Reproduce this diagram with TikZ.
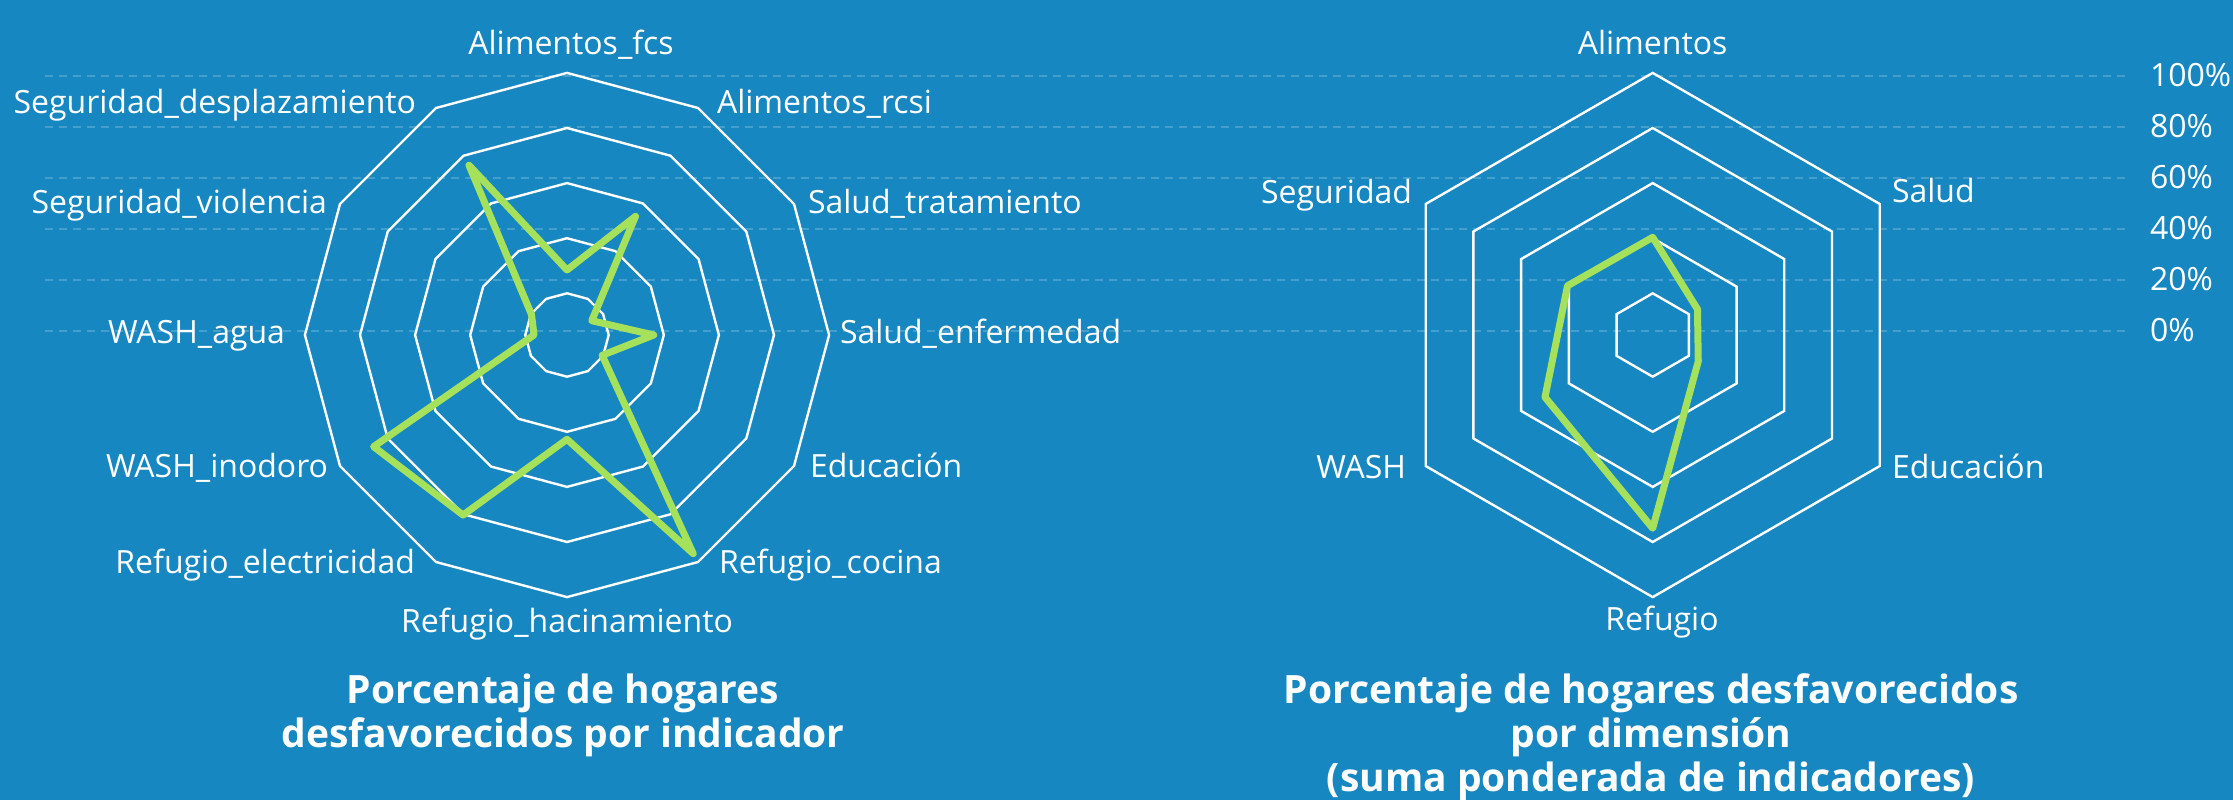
\documentclass[tikz,border=0pt]{standalone}
\usepackage{fontspec}
\setmainfont{Open Sans}
\definecolor{bgblue}{HTML}{1787C1}
\definecolor{datagreen}{HTML}{A6E15B}
\tikzset{
  ring/.style={draw=white, line width=2.4pt, line join=miter},
  series/.style={draw=datagreen, line width=7pt, line join=round, line cap=round},
  gridline/.style={draw=white, draw opacity=0.2, line width=2pt, dash pattern=on 8pt off 6pt},
  lbl/.style={text=white, inner sep=0pt, outer sep=0pt, font=\fontsize{32}{38}\selectfont},
  ttl/.style={text=white, inner sep=0pt, outer sep=0pt, align=center, font=\bfseries\fontsize{39}{44}\selectfont},
}
\begin{document}
\begin{tikzpicture}[x=1pt, y=-1pt]
\useasboundingbox (0,0) rectangle (2233,800);
\fill[bgblue] (0,0) rectangle (2233,800);

% horizontal dashed grid lines and their labels
\foreach \k/\t in {0/100\%, 1/80\%, 2/60\%, 3/40\%, 4/20\%, 5/0\%} {
  \pgfmathsetmacro\yy{76+50.9*\k}
  \coordinate (gs\k) at (45,\yy);
  \coordinate (ge\k) at (2130,\yy);
  \draw[gridline] (gs\k) -- (ge\k);
  \node[lbl, anchor=base west] (yl\k) at (2150,\yy+10.5) {\t};
}

% ---------- left chart: 12 indicators ----------
\coordinate (lc) at (567,335);
\foreach \k in {0,...,4} {
  \pgfmathsetmacro\r{41.7+55.1*\k}
  \draw[ring] (567,{335-\r}) \foreach \a in {30,60,...,330} { -- ({567+\r*sin(\a)},{335-\r*cos(\a)}) } -- cycle;
}
\draw[series] (567,{335-65})
  \foreach \a/\r in {30/137, 60/28.6, 90/86.7, 120/40.6, 150/252.5, 180/104.3, 210/207.9, 240/223.3, 270/33, 300/41, 330/196}
  { -- ({567+\r*sin(\a)},{335-\r*cos(\a)}) } -- cycle;

\node[lbl, anchor=base] (l1) at (571,55) {Alimentos\_fcs};
\node[lbl, anchor=base west] (l2) at (717,113) {Alimentos\_rcsi};
\node[lbl, anchor=base west] (l3) at (808,213) {Salud\_tratamiento};
\node[lbl, anchor=base west] (l4) at (840,343) {Salud\_enfermedad};
\node[lbl, anchor=base west] (l5) at (810,477) {Educación};
\node[lbl, anchor=base west] (l6) at (719,573) {Refugio\_cocina};
\node[lbl, anchor=base] (l7) at (567,632) {Refugio\_hacinamiento};
\node[lbl, anchor=base east] (l8) at (415,573) {Refugio\_electricidad};
\node[lbl, anchor=base east] (l9) at (328,477) {WASH\_inodoro};
\node[lbl, anchor=base east] (l10) at (285,343) {WASH\_agua};
\node[lbl, anchor=base east] (l11) at (327,213) {Seguridad\_violencia};
\node[lbl, anchor=base east] (l12) at (416,113) {Seguridad\_desplazamiento};

% ---------- right chart: 6 dimensions ----------
\coordinate (rc) at (1652.7,335);
\foreach \k in {0,...,4} {
  \pgfmathsetmacro\r{41.7+55.1*\k}
  \draw[ring] (1652.7,{335-\r}) \foreach \a in {60,120,...,300} { -- ({1652.7+\r*sin(\a)},{335-\r*cos(\a)}) } -- cycle;
}
\draw[series] (1652.7,{335-97.7})
  \foreach \a/\r in {60/51.7, 120/52.6, 180/193.3, 240/124.4, 300/98.4}
  { -- ({1652.7+\r*sin(\a)},{335-\r*cos(\a)}) } -- cycle;

\node[lbl, anchor=base] (r1) at (1652.6,55) {Alimentos};
\node[lbl, anchor=base west] (r2) at (1892,202) {Salud};
\node[lbl, anchor=base west] (r3) at (1892,478) {Educación};
\node[lbl, anchor=base] (r4) at (1662,630) {Refugio};
\node[lbl, anchor=base east] (r5) at (1406,478) {WASH};
\node[lbl, anchor=base east] (r6) at (1412,203) {Seguridad};

% ---------- titles (base anchor = baseline of the last line) ----------
\node[ttl, anchor=base] (t1) at (563,747) {Porcentaje de hogares\\desfavorecidos por indicador};
\node[ttl, anchor=base] (t2) at (1651,791) {Porcentaje de hogares desfavorecidos\\por dimensión\\(suma ponderada de indicadores)};
\end{tikzpicture}
\end{document}
